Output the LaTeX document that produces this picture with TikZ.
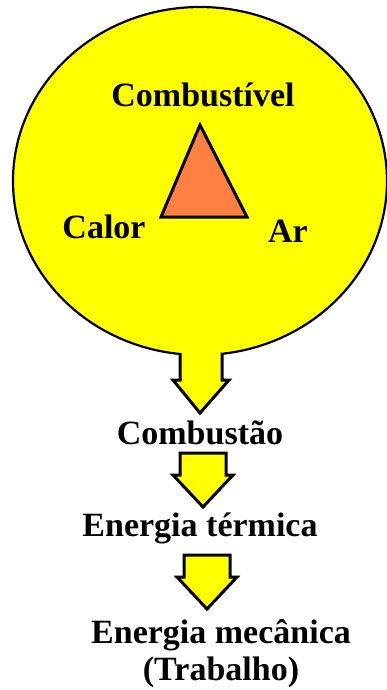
\documentclass[tikz,border=0pt]{standalone}
\usepackage{fontspec}
\setmainfont{Liberation Serif}
\usetikzlibrary{positioning,shapes.geometric}
\definecolor{sunyellow}{RGB}{255,255,0}
\definecolor{fireorange}{RGB}{255,128,64}

\begin{document}
\begin{tikzpicture}[
    x=1pt,y=1pt,
    lbl/.style={font=\fontsize{34}{37}\selectfont\bfseries,inner sep=0pt,align=center},
    blockarrow/.style={draw,fill=sunyellow,line width=3pt,line join=miter},
    pics/downarrow/.style={code={
      \path[blockarrow] (-23,0) -- (-23,-22) -- (-30,-22) -- (0,-54)
        -- (30,-22) -- (23,-22) -- (23,0) -- cycle;
    }}
]
\useasboundingbox (0,0) rectangle (386,-690);

% circle with the fire triangle
\node[ellipse,draw,fill=sunyellow,line width=2.2pt,
      minimum width=374,minimum height=348,inner sep=0pt] (fire) at (200,-181) {};

\path[blockarrow] (180,-353) -- (180,-380) -- (173,-380) -- (200,-413)
  -- (229,-380) -- (222,-380) -- (222,-353);
\fill[sunyellow] (181.6,-345) rectangle (220.4,-362);

\coordinate (top) at (200,-125);
\coordinate (left) at (161,-217);
\coordinate (right) at (247,-217);
\draw[fill=fireorange,line width=3pt,line join=miter] (top) -- (left) -- (right) -- cycle;

\node[lbl] (fuel) at (203,-95) {Combustível};
\node[lbl] (heat) at (104,-227) {Calor};
\node[lbl] (air) at (288,-231) {Ar};

% chain below
\node[lbl] (comb) at (200,-433) {Combustão};
\pic at (203,-453) {downarrow};
\node[lbl] (therm) at (200,-528) {Energia térmica};
\pic at (207,-555) {downarrow};
\node[lbl,anchor=north] (mech) at (221,-619) {Energia mecânica\\(Trabalho)};
\end{tikzpicture}
\end{document}
